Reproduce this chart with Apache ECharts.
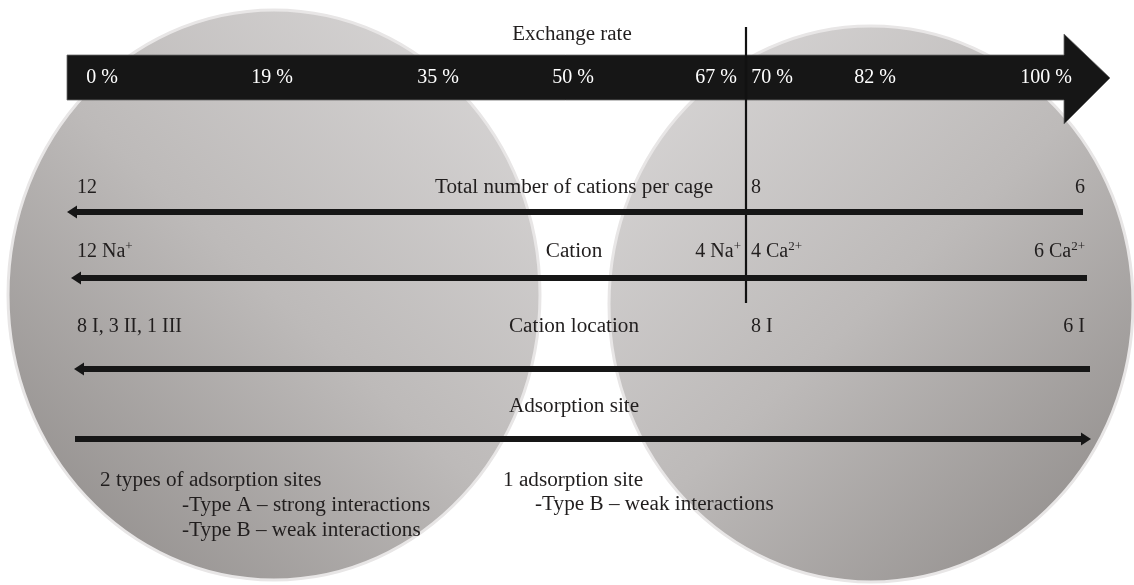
<!DOCTYPE html>
<html>
<head>
<meta charset="utf-8">
<title>Exchange rate scheme</title>
<script src="https://cdn.jsdelivr.net/npm/echarts@6/dist/echarts.min.js"></script>
<style>
  html, body { margin: 0; padding: 0; background: #fff; }
  #main { width: 1134px; height: 585px; }
</style>
</head>
<body>
<div id="main"></div>
<script>
// exchange-rate steps printed on the big arrow
const rates = ["0 %", "19 %", "35 %", "50 %", "67 %", "70 %", "82 %", "100 %"];
// row headings, top to bottom
const rowTitles = ["Total number of cations per cage", "Cation", "Cation location", "Adsorption site"];
// values at 0 %, either side of the 67/70 % break, and at 100 %
const atStart = ["12", "12 Na{s|+}", "8 I, 3 II, 1 III"];
const atBreakLeft = ["", "4 Na{s|+}", ""];
const atBreakRight = ["8", "4 Ca{s|2+}", "8 I"];
const atEnd = ["6", "6 Ca{s|2+}", "6 I"];
// adsorption notes under the last arrow
const notesNa = ["2 types of adsorption sites", "-Type A \u2013 strong interactions", "-Type B \u2013 weak interactions"];
const notesCa = ["1 adsorption site", "-Type B \u2013 weak interactions"];

// layout (diagram units = pixels of the 1134x585 frame)
const rateX = [102, 272, 438, 573, 716, 772, 875, 1046];
const rowTextY = [188, 252, 327, 407];
const rowLineY = [212, 278, 369, 439];
const rowLineX = [[67, 1083], [71, 1087], [74, 1090], [75, 1091]];
const rowArrowDir = ["left", "left", "left", "right"];

const serif = '"Liberation Serif", "Times New Roman", serif';
const ink = "#211e1e";

const chart = echarts.init(document.getElementById("main"));

// all text pieces, built from the arrays above (w = horizontal stretch, the original face is wider)
const texts = [];
texts.push({ t: "Exchange rate", x: 572, y: 35, a: "center", w: 1.05 });
rates.forEach((r, i) => texts.push({ t: r, x: rateX[i], y: 78, a: "center", c: "#ffffff" }));
rowTitles.forEach((r, i) => texts.push({ t: r, x: 574, y: rowTextY[i], a: "center", w: 1.06 }));
atStart.forEach((r, i) => texts.push({ t: r, x: 77, y: rowTextY[i], a: "left" }));
atBreakLeft.forEach((r, i) => r && texts.push({ t: r, x: 741, y: rowTextY[i], a: "right" }));
atBreakRight.forEach((r, i) => texts.push({ t: r, x: 751, y: rowTextY[i], a: "left" }));
atEnd.forEach((r, i) => texts.push({ t: r, x: 1085, y: rowTextY[i], a: "right" }));
notesNa.forEach((r, i) => texts.push({ t: r, x: i ? 182 : 100, y: 481 + i * 25, a: "left", w: 1.06 }));
notesCa.forEach((r, i) => texts.push({ t: r, x: i ? 535 : 503, y: 481 + i * 24, a: "left", w: 1.06 }));

const discs = [
  { cx: 274, cy: 295, rx: 266, ry: 285, dir: [1, 0, 0, 1] },
  { cx: 871, cy: 304, rx: 262, ry: 278, dir: [0, 0, 1, 1] },
];

chart.setOption({
  animation: false,
  grid: { left: 0, right: 0, top: 0, bottom: 0 },
  xAxis: { type: "value", min: 0, max: 1134, show: false },
  yAxis: { type: "value", min: 0, max: 585, inverse: true, show: false },
  series: [
    {
      // the two grey discs
      type: "custom",
      silent: true,
      data: discs.map((d, i) => i),
      renderItem: function (params, api) {
        const d = discs[api.value(0)];
        const c = api.coord([d.cx, d.cy]);
        const s = api.size([d.rx, d.ry]);
        return {
          type: "ellipse",
          shape: { cx: c[0], cy: c[1], rx: s[0], ry: s[1] },
          style: {
            fill: new echarts.graphic.LinearGradient(d.dir[0], d.dir[1], d.dir[2], d.dir[3], [
              { offset: 0, color: "#dcdada" },
              { offset: 0.5, color: "#bdbab9" },
              { offset: 1, color: "#8b8785" },
            ]),
            stroke: "#e8e6e6",
            lineWidth: 3,
          },
        };
      },
    },
    {
      // the big exchange-rate arrow
      type: "custom",
      silent: true,
      data: [0],
      renderItem: function (params, api) {
        const pts = [[67, 55], [1064, 55], [1064, 34], [1110, 78], [1064, 124], [1064, 100], [67, 100]];
        return {
          type: "polygon",
          shape: { points: pts.map((p) => api.coord(p)) },
          style: { fill: "#161616", stroke: "#6a6a6a", lineWidth: 0.8 },
        };
      },
    },
    {
      // the 67/70 % break line
      type: "custom",
      silent: true,
      data: [0],
      renderItem: function (params, api) {
        const a = api.coord([746, 27]);
        const b = api.coord([746, 303]);
        return {
          type: "line",
          shape: { x1: a[0], y1: a[1], x2: b[0], y2: b[1] },
          style: { stroke: "#111", lineWidth: 2.2 },
        };
      },
    },
    {
      // the four row arrows
      type: "custom",
      silent: true,
      data: rowLineY.map((y, i) => i),
      renderItem: function (params, api) {
        const i = api.value(0);
        const y = rowLineY[i];
        const [x0, x1] = rowLineX[i];
        const left = rowArrowDir[i] === "left";
        const tip = left ? x0 : x1;
        const base = left ? x0 + 10 : x1 - 10;
        const a = api.coord([left ? base : x0, y]);
        const b = api.coord([left ? x1 : base, y]);
        return {
          type: "group",
          children: [
            {
              type: "line",
              shape: { x1: a[0], y1: a[1], x2: b[0], y2: b[1] },
              style: { stroke: "#161616", lineWidth: 6 },
            },
            {
              type: "polygon",
              shape: { points: [api.coord([tip, y]), api.coord([base, y - 6.5]), api.coord([base, y + 6.5])] },
              style: { fill: "#161616" },
            },
          ],
        };
      },
    },
    {
      // all text
      type: "custom",
      silent: true,
      data: texts.map((t, i) => i),
      renderItem: function (params, api) {
        const t = texts[api.value(0)];
        const p = api.coord([t.x, t.y]);
        return {
          type: "text",
          x: p[0],
          y: p[1],
          scaleX: t.w || 1,
          style: {
            text: t.t,
            align: t.a,
            verticalAlign: "middle",
            fill: t.c || ink,
            fontFamily: serif,
            fontSize: 20,
            lineHeight: 24,
            rich: {
              s: { fontFamily: serif, fontSize: 13, lineHeight: 13, verticalAlign: "top", fill: t.c || ink },
            },
          },
        };
      },
    },
  ],
});
</script>
</body>
</html>
